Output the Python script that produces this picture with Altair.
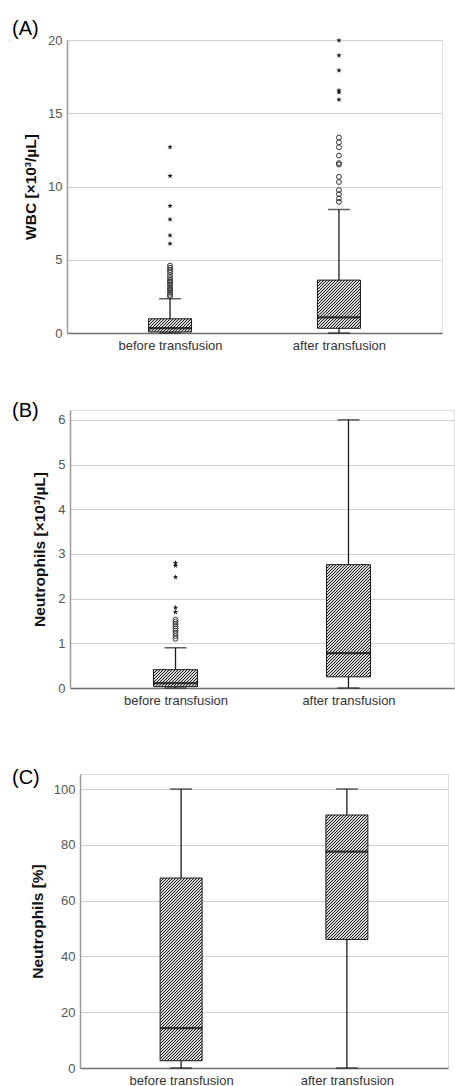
import math
import altair as alt
import pandas as pd

CATS = ["before transfusion", "after transfusion"]

# ---------------- (A) WBC [x10^3/uL] ----------------
A_LO = [0.0, 0.0]
A_Q1 = [0.07, 0.32]
A_MED = [0.33, 1.07]
A_Q3 = [0.97, 3.61]
A_HI = [2.34, 8.43]
A_CIRC_BEFORE = [2.5, 2.6, 2.75, 2.9, 3.0, 3.1, 3.25, 3.4, 3.5, 3.6, 3.75, 3.95, 4.15, 4.3, 4.45, 4.6]
A_STAR_BEFORE = [6.1, 6.66, 7.75, 8.68, 10.72, 12.68]
A_CIRC_AFTER = [8.95, 9.18, 9.48, 9.75, 10.31, 10.66, 11.5, 11.6, 12.11, 12.68, 13.02, 13.34]
A_STAR_AFTER = [15.93, 16.43, 16.56, 17.93, 18.95, 19.97]

# ---------------- (B) Neutrophils [x10^3/uL] ----------------
B_LO = [0.0, 0.0]
B_Q1 = [0.03, 0.25]
B_MED = [0.11, 0.78]
B_Q3 = [0.41, 2.76]
B_HI = [0.90, 6.0]
B_CIRC_BEFORE = [1.1, 1.16, 1.22, 1.28, 1.33, 1.38, 1.43, 1.48, 1.53]
B_STAR_BEFORE = [1.70, 1.80, 2.48, 2.74, 2.80]
B_CIRC_AFTER = []
B_STAR_AFTER = []

# ---------------- (C) Neutrophils [%] ----------------
C_LO = [0.0, 0.0]
C_Q1 = [2.6, 46.1]
C_MED = [14.3, 77.6]
C_Q3 = [68.1, 90.7]
C_HI = [100.0, 100.0]
C_CIRC_BEFORE = []
C_STAR_BEFORE = []
C_CIRC_AFTER = []
C_STAR_AFTER = []

STAR = ("M0,-1L0.2245,-0.309L0.951,-0.309L0.363,0.118L0.588,0.809L0,0.382"
        "L-0.588,0.809L-0.363,0.118L-0.951,-0.309L-0.2245,-0.309Z")
INK = "#1a1a1a"
FONT = "Liberation Sans"


def hatch(w, h, hperiod=3.0, frac=1 / 3, dark="#1e1e1e", light="#d8d8d8"):
    """Diagonal '////' hatch drawn as a striped linear gradient over the box.
    The stripe period is fixed in screen pixels (3 px horizontally) so it stays
    aligned with the pixel grid."""
    p = hperiod / math.sqrt(2)          # perpendicular period
    r = h / w
    k = (1 + r) / (1 + r * r)           # vector reaching the far corner at t = 1
    L = (w + h) / math.sqrt(2)          # corner-to-corner distance along the normal
    n = math.ceil(L / p)
    D = n * p                           # gradient length along the normal
    c = k * D / L
    stops = []
    for i in range(n):
        a, b, e = i / n, (i + frac) / n, (i + 1) / n
        stops += [
            alt.GradientStop(color=dark, offset=a),
            alt.GradientStop(color=dark, offset=b),
            alt.GradientStop(color=light, offset=b),
            alt.GradientStop(color=light, offset=e),
        ]
    return alt.LinearGradient(gradient="linear", stops=stops, x1=0, y1=0, x2=c, y2=c * r)


def outliers(before, after):
    cats = [CATS[0]] * len(before) + [CATS[1]] * len(after)
    return pd.DataFrame({"cat": cats, "value": list(before) + list(after)})


def panel(lo, q1, med, q3, hi, circ, star, ymax, ticks, width, height, box_w,
          label, label_dx, label_dy, ytitle, ytitle_x):
    summ = pd.DataFrame({"cat": CATS, "lo": lo, "q1": q1, "med": med, "q3": q3, "hi": hi})
    xs = alt.Scale(type="point", padding=0.61, domain=CATS)
    xa = alt.Axis(title=None, labelAngle=0, ticks=False, grid=False,
                  domainColor="#6e6e6e", domainWidth=1.5,
                  labelColor="#333333", labelFontSize=13, labelPadding=6, labelFont=FONT)
    ys = alt.Scale(domain=[0, ymax], nice=False, zero=True)
    ya = alt.Axis(values=ticks, ticks=False, grid=True, gridColor="#cfcfcf", gridWidth=1.2,
                  domainColor="#9a9a9a", domainWidth=1.5,
                  labelColor="#555555", labelFontSize=13, labelPadding=5, labelFont=FONT,
                  titleFont=FONT, titleFontSize=15.5, titleFontWeight="bold", titleColor="#111111",
                  titleX=ytitle_x, titleBaseline="middle")

    def X():
        return alt.X("cat:N", scale=xs, axis=xa, sort=CATS)

    def Y(f):
        return alt.Y(f"{f}:Q", scale=ys, axis=ya, title=ytitle)

    base = alt.Chart(summ)
    layers = [
        base.mark_rule(color=INK, strokeWidth=1.3).encode(x=X(), y=Y("lo"), y2="hi"),
        base.mark_tick(color=INK, size=22, thickness=1.5).encode(x=X(), y=Y("hi")),
        base.mark_tick(color=INK, size=22, thickness=1.5).encode(x=X(), y=Y("lo")),
    ]
    for i, c in enumerate(CATS):
        h = (q3[i] - q1[i]) * height / ymax
        layers.append(
            base.transform_filter(alt.datum.cat == c)
            .mark_bar(width=box_w, fill=hatch(box_w, h), stroke=INK, strokeWidth=1)
            .encode(x=X(), y=Y("q3"), y2="q1")
        )
    layers.append(base.mark_tick(color="black", size=box_w, thickness=2.2).encode(x=X(), y=Y("med")))
    if len(circ):
        layers.append(
            alt.Chart(circ).mark_point(shape="circle", filled=False, size=24, stroke="#333333",
                                       strokeWidth=1, opacity=1)
            .encode(x=X(), y=Y("value"))
        )
    if len(star):
        layers.append(
            alt.Chart(star).mark_point(shape=STAR, filled=True, size=34, color=INK, opacity=1)
            .encode(x=X(), y=Y("value"))
        )
    return alt.layer(*layers).properties(
        width=width, height=height,
        title=alt.TitleParams(text=label, anchor="start", frame="group", orient="top",
                              font=FONT, fontSize=20, fontWeight="normal", color="black",
                              baseline="bottom", offset=0, dx=label_dx, dy=label_dy),
    )


def spacer():
    return (alt.Chart(pd.DataFrame({"s": [0]})).mark_rect(opacity=0)
            .encode(x=alt.value(0), x2=alt.value(1), y=alt.value(0), y2=alt.value(1))
            .properties(width=1, height=1))


pA = panel(A_LO, A_Q1, A_MED, A_Q3, A_HI,
           outliers(A_CIRC_BEFORE, A_CIRC_AFTER), outliers(A_STAR_BEFORE, A_STAR_AFTER),
           20, [0, 5, 10, 15, 20], 375, 293, 43, "(A)", -55, 25, "WBC [×10³/µL]", -37)
pB = panel(B_LO, B_Q1, B_MED, B_Q3, B_HI,
           outliers(B_CIRC_BEFORE, B_CIRC_AFTER), outliers(B_STAR_BEFORE, B_STAR_AFTER),
           6.22, [0, 1, 2, 3, 4, 5, 6], 384, 278, 44, "(B)", -58, 31, "Neutrophils [×10³/µL]", -31)
pC = panel(C_LO, C_Q1, C_MED, C_Q3, C_HI,
           outliers(C_CIRC_BEFORE, C_CIRC_AFTER), outliers(C_STAR_BEFORE, C_STAR_AFTER),
           105.4, [0, 20, 40, 60, 80, 100], 368, 294, 42, "(C)", -68, 34, "Neutrophils [%]", -43)

rowA = alt.hconcat(spacer(), pA, spacing=0)
rowB = alt.hconcat(spacer(), pB, spacing=0)
rowC = alt.hconcat(spacer(), pC, spacing=0)

chart = (
    alt.vconcat(rowA, alt.vconcat(rowB, rowC, spacing=59), spacing=47)
    .properties(padding={"left": 8, "top": 18, "right": 0, "bottom": 0})
    .configure_view(stroke=None)
    .configure(font=FONT)
)

chart.save("out.html", embed_options={"renderer": "svg", "actions": False})
